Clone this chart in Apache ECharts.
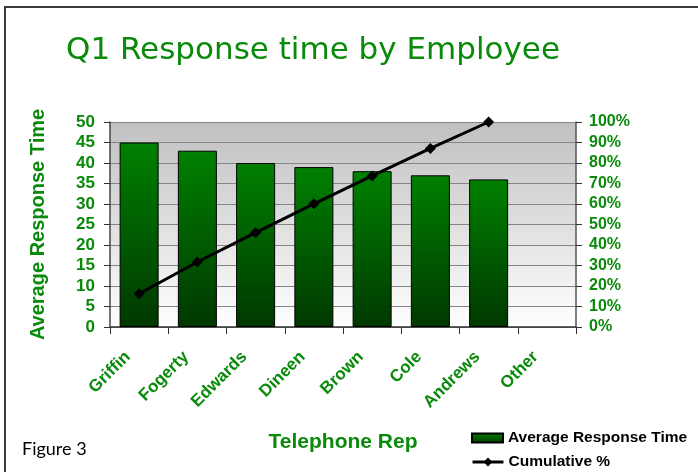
<!DOCTYPE html>
<html>
<head>
<meta charset="utf-8">
<script src="https://cdn.jsdelivr.net/npm/echarts@6/dist/echarts.min.js"></script>
<style>
html,body{margin:0;padding:0;background:#fff;}
#c{width:698px;height:472px;}
</style>
</head>
<body>
<div id="c"></div>
<script>
const categories = ['Griffin','Fogerty','Edwards','Dineen','Brown','Cole','Andrews','Other'];
const avgResponse = [45, 43, 40, 39, 38, 37, 36, null];
const cumulativePct = [16.2, 31.7, 46.0, 60.1, 73.7, 87.1, 100, null];
const leftTicks = [0, 50, 5];
const rightTicks = [0, 100, 10];

const green = '#0a8a0a';
const legendText = {fontFamily:'Liberation Sans', fontWeight:'bold', fontSize:15.5, color:'#000'};
const chart = echarts.init(document.getElementById('c'), null, {renderer:'canvas'});
chart.setOption({
  animation: false,
  backgroundColor: '#fff',
  title: {
    text: 'Q1 Response time by Employee',
    left: 61, top: 30,
    textStyle: {fontFamily: 'DejaVu Sans', fontSize: 31, fontWeight: 'normal', color: green}
  },
  graphic: [
    {type:'rect', z:-10, shape:{x:5,y:7,width:800,height:800}, style:{fill:'none', stroke:'#3a3a3a', lineWidth:2}},
    {type:'text', left:22, top:440, style:{text:'Figure 3', font:'18px Lato', fill:'#000'}}
  ],
  legend: [
    {
      left: 471, top: 430, padding: 0, itemGap: 6,
      itemWidth: 31, itemHeight: 9, textStyle: legendText,
      data: [{name:'Average Response Time', icon:'rect'}]
    },
    {
      left: 471, top: 454, padding: 0, itemGap: 6,
      itemWidth: 31, itemHeight: 11, textStyle: legendText,
      lineStyle: {width: 3},
      data: [{name:'Cumulative %'}]
    }
  ],
  grid: {
    left: 110, right: 122, top: 122, bottom: 145,
    show: true, borderWidth: 0,
    backgroundColor: new echarts.graphic.LinearGradient(0,0,0,1,[{offset:0,color:'#c0c0c0'},{offset:1,color:'#ffffff'}])
  },
  xAxis: {
    type: 'category', data: categories,
    name: 'Telephone Rep', nameLocation: 'middle', nameGap: 105,
    nameTextStyle: {fontFamily:'Liberation Sans', fontWeight:'bold', fontSize:21, color:green},
    axisLine: {lineStyle:{color:'#333', width:1.5}},
    axisTick: {show:true, length:7, lineStyle:{color:'#333'}},
    axisLabel: {rotate:45, margin:16, padding:[0,16,0,0], fontFamily:'Liberation Sans', fontWeight:'bold', fontSize:17, color:green}
  },
  yAxis: [
    {
      type: 'value', min: leftTicks[0], max: leftTicks[1], interval: leftTicks[2],
      name: 'Average Response Time', nameLocation: 'middle', nameGap: 62, nameRotate: 90,
      nameTextStyle: {fontFamily:'Liberation Sans', fontWeight:'bold', fontSize:20, color:green},
      axisLine: {show:true, lineStyle:{color:'#444', width:1.5}},
      axisTick: {show:true, length:6, lineStyle:{color:'#333'}},
      splitLine: {show:true, lineStyle:{color:'#858585', width:1}},
      axisLabel: {margin:15, fontFamily:'Liberation Sans', fontWeight:'bold', fontSize:17, color:green}
    },
    {
      type: 'value', min: rightTicks[0], max: rightTicks[1], interval: rightTicks[2], position:'right',
      axisLine: {show:true, lineStyle:{color:'#555', width:1.5}},
      axisTick: {show:true, length:6, lineStyle:{color:'#333'}},
      splitLine: {show:false},
      axisLabel: {margin:13, formatter:'{value}%', fontFamily:'Liberation Sans', fontWeight:'bold', fontSize:16, color:green}
    }
  ],
  series: [
    {
      name: 'Average Response Time', type: 'bar', data: avgResponse, barWidth: '67%',
      itemStyle: {
        color: new echarts.graphic.LinearGradient(0,0,0,1,[{offset:0,color:'#008000'},{offset:1,color:'#003800'}]),
        borderColor: '#000', borderWidth: 1
      }
    },
    {
      name: 'Cumulative %', type: 'line', yAxisIndex: 1, data: cumulativePct,
      symbol: 'diamond', symbolSize: 11,
      itemStyle: {color:'#000'},
      lineStyle: {color:'#000', width:3}
    }
  ]
});
</script>
</body>
</html>
